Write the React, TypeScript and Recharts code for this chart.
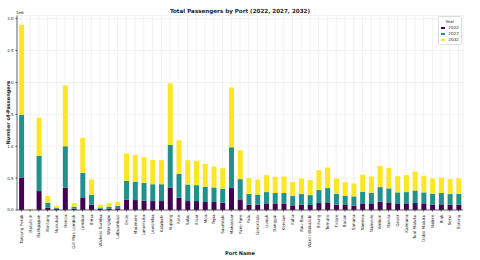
// Total passengers per port, stacked by forecast year (2022 / 2027 / 2032).
// Values are in thousands of passengers; the axis shows millions with a "1e6" offset note.
import { Bar, BarChart, CartesianGrid, Legend, XAxis, YAxis } from "recharts";

const ports = [
  "Tanjung Perak", "Batulicin", "Balikpapan", "Bontang", "Nunukan", "Benoa",
  "Gili Mas Lombok", "Lembar", "Bima", "Waikelo Sumba", "Waingapu", "Labuanbajo",
  "Ende", "Maumere", "Larantuka", "Lewoleba", "Kalabahi", "Kupang", "Rote", "Sabu",
  "Kisar", "Moa", "Tepa", "Saumlaki", "Makassar", "Pare-Pare", "Palu", "Gorontalo",
  "Luwuk", "Banggai", "Kendari", "Raha", "Bau-Bau", "Wanci Wakatobi", "Bitung",
  "Ternate", "Tidore", "Bacan", "Sanana", "Namlea", "Namrole", "Ambon", "Banda",
  "Geser", "Kaimana", "Tual Maluku", "Dobo Maluku", "Nabire", "Biak", "Serui", "Sorong",
];

const pax2022 = [
  510, 4, 297, 36, 21, 349, 20, 198, 83, 20, 22, 26, 161, 156, 146, 140, 140, 354, 193, 140,
  140, 125, 125, 115, 344, 167, 83, 83, 94, 94, 94, 73, 83, 78, 109, 120, 83, 78, 68, 94,
  94, 130, 120, 94, 94, 109, 94, 83, 89, 83, 83,
];
const pax2027 = [
  985, 5, 552, 79, 15, 651, 32, 385, 157, 20, 31, 37, 292, 287, 281, 264, 264, 666, 375, 260,
  250, 240, 229, 218, 640, 317, 172, 162, 187, 172, 172, 146, 167, 156, 204, 224, 172, 146, 146, 192,
  177, 229, 219, 182, 187, 198, 182, 172, 177, 167, 172,
];
const pax2032 = [
  1411, 6, 599, 104, 32, 953, 57, 547, 239, 43, 56, 62, 432, 422, 401, 382, 377, 964, 526, 381,
  381, 359, 328, 323, 936, 454, 245, 234, 266, 255, 260, 219, 245, 235, 312, 323, 240, 214, 203, 266,
  255, 334, 322, 255, 266, 297, 260, 240, 244, 234, 240,
];

const years = ["2022", "2027", "2032"];
const yTicks = [0, 500, 1000, 1500, 2000, 2500, 3000];

const COLORS = ["#440154", "#21918c", "#fde725"];
const FONT = "'DejaVu Sans', sans-serif";
const INK = "#262626";

const data = ports.map((port, i) => ({
  port,
  "2022": pax2022[i],
  "2027": pax2027[i],
  "2032": pax2032[i],
}));

function PortTick({ x, y, payload }: any) {
  const ty = y + 1;
  return (
    <text
      x={x}
      y={ty}
      transform={`rotate(-90 ${x} ${ty})`}
      textAnchor="end"
      dominantBaseline="central"
      fontSize={4.2}
      fontFamily={FONT}
      fill={INK}
    >
      {payload.value}
    </text>
  );
}

function YearLegend({ payload }: any) {
  return (
    <div
      style={{
        border: "0.6px solid #dddddd",
        background: "rgba(255,255,255,0.85)",
        borderRadius: 1.5,
        padding: "2px 2px 1px 1.5px",
        fontFamily: FONT,
        fontSize: 4.2,
        color: INK,
        lineHeight: "6.2px",
        boxSizing: "border-box",
        width: 24,
      }}
    >
      <div style={{ textAlign: "center" }}>Year</div>
      {(payload ?? []).map((p: any) => (
        <div key={p.value} style={{ display: "flex", alignItems: "center" }}>
          <span style={{ width: 7.5, height: 2.5, background: p.color, marginRight: 3 }} />
          <span>{p.value}</span>
        </div>
      ))}
    </div>
  );
}

export default function App() {
  return (
    <div style={{ position: "relative", width: 480, height: 260, background: "#fff" }}>
      <style>{`body{margin:0}`}</style>
      <div
        style={{
          position: "absolute",
          top: 7.5,
          left: 0,
          width: 480,
          textAlign: "center",
          fontFamily: FONT,
          fontWeight: "bold",
          fontSize: 5.6,
          color: INK,
          lineHeight: "7px",
        }}
      >
        Total Passengers by Port (2022, 2027, 2032)
      </div>
      <div
        style={{
          position: "absolute",
          top: 9.5,
          left: 16,
          fontFamily: FONT,
          fontSize: 4,
          color: INK,
          lineHeight: "5px",
        }}
      >
        1e6
      </div>
      <BarChart
        width={480}
        height={260}
        data={data}
        margin={{ top: 15.5, right: 17, bottom: 0, left: 0 }}
        barCategoryGap="24%"
      >
        <CartesianGrid stroke="#ebebeb" strokeWidth={0.7} />
        <XAxis
          dataKey="port"
          interval={0}
          height={50}
          tick={<PortTick />}
          tickSize={1.5}
          tickLine={{ stroke: "#444" }}
          axisLine={{ stroke: "#444", strokeWidth: 0.8 }}
          label={{
            value: "Port Name",
            position: "insideBottom",
            offset: 5,
            fontSize: 5,
            fontWeight: "bold",
            fontFamily: FONT,
            fill: INK,
          }}
        />
        <YAxis
          width={17}
          domain={[0, 3050]}
          ticks={yTicks}
          tickFormatter={(v: number) => (v / 1000).toFixed(1)}
          tick={{ fontSize: 4, fontFamily: FONT, fill: INK }}
          tickSize={1.5}
          tickLine={{ stroke: "#444" }}
          axisLine={{ stroke: "#444", strokeWidth: 0.8 }}
          label={{
            value: "Number of Passengers",
            angle: -90,
            position: "center",
            dx: -0.5,
            fontSize: 5,
            fontWeight: "bold",
            fontFamily: FONT,
            fill: INK,
          }}
        />
        <Legend
          layout="vertical"
          align="center"
          verticalAlign="middle"
          content={<YearLegend />}
          wrapperStyle={{ position: "absolute", left: 438, top: 15.5, width: 24, height: "auto" }}
        />
        {years.map((y, i) => (
          <Bar key={y} dataKey={y} stackId="pax" fill={COLORS[i]} isAnimationActive={false} />
        ))}
      </BarChart>
    </div>
  );
}
